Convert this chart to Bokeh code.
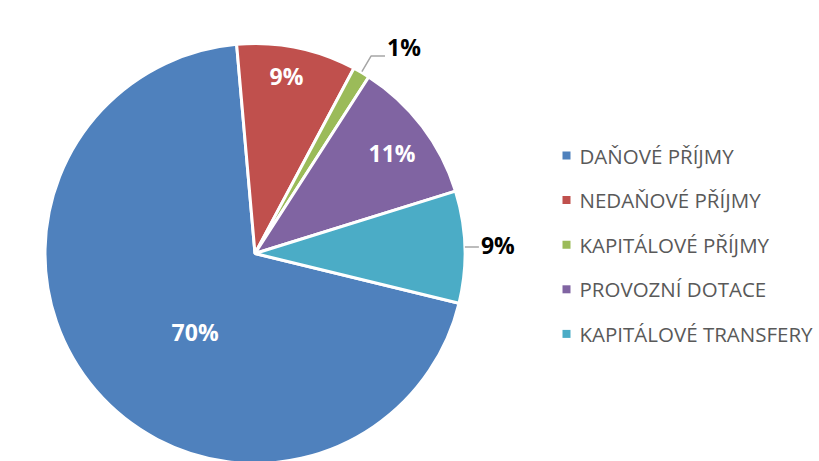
import numpy as np
from bokeh.plotting import figure
from bokeh.models import Range1d, ColumnDataSource
from bokeh.core.properties import value
from bokeh.embed import file_html
from bokeh.resources import INLINE

# ---- data ----
categories = ["DAŇOVÉ PŘÍJMY", "NEDAŇOVÉ PŘÍJMY", "KAPITÁLOVÉ PŘÍJMY",
              "PROVOZNÍ DOTACE", "KAPITÁLOVÉ TRANSFERY"]
shares = [69.8, 9.2, 1.3, 11.1, 8.6]
labels = ["70%", "9%", "1%", "11%", "9%"]
colors = ["#4F81BD", "#C0504D", "#9BBB59", "#8064A2", "#4BACC6"]

# ---- layout / style ----
W, H = 819, 461
CX, CY = 254.5, H - 253.0
R = 210.0
FIRST_SLICE_DEG = 103.7  # clockwise from 12 o'clock, like Excel
FONT = "Open Sans"

p = figure(width=W, height=H, x_range=Range1d(0, W), y_range=Range1d(0, H),
           output_backend="svg", toolbar_location=None, min_border=0)
p.axis.visible = False
p.grid.visible = False
p.outline_line_color = None
p.background_fill_color = "white"
p.border_fill_color = "white"

frac = np.array(shares, dtype=float) / float(np.sum(shares))
cum = np.concatenate([[0.0], np.cumsum(frac)])
a0 = np.radians(90.0 - FIRST_SLICE_DEG)
starts = a0 - cum[:-1] * 2 * np.pi
ends = a0 - cum[1:] * 2 * np.pi
mids = (starts + ends) / 2

src = ColumnDataSource(dict(x=[CX] * len(shares), y=[CY] * len(shares),
                            start=starts, end=ends, color=colors))
p.wedge(x="x", y="y", radius=R, start_angle="start", end_angle="end",
        direction="clock", fill_color="color", line_color="white",
        line_width=3, source=src)

# data labels: inside (white) or outside with leader (black)
# per slice: (mode, radius factor, angle nudge deg ccw, elbow extra radius, text dy)
label_style = [
    ("in", 0.47, 12.0, 0, 0),
    ("in", 0.86, 1.5, 0, 0),
    ("out", 1.0, 0.0, 19, 9),
    ("in", 0.81, -0.9, 0, 0),
    ("out", 1.0, 0.0, 0, 2),
]
for i, (mode, rf, nudge, elbow, dy) in enumerate(label_style):
    th = mids[i] + np.radians(nudge)
    if mode == "in":
        lx = CX + rf * R * np.cos(th)
        ly = CY + rf * R * np.sin(th)
        p.text(x=[lx], y=[ly], text=[labels[i]], text_color="white",
               text_font=value(FONT), text_font_style="bold",
               text_font_size="23px", text_align="center",
               text_baseline="middle")
    else:
        ax = CX + (R + 1) * np.cos(th)
        ay = CY + (R + 1) * np.sin(th)
        bx = CX + (R + elbow) * np.cos(th)
        by = CY + (R + elbow) * np.sin(th)
        cx2 = bx + 14
        p.line(x=[ax, bx, cx2], y=[ay, by, by], line_color="#A6A6A6",
               line_width=1.5)
        p.text(x=[cx2 + 2], y=[by + dy], text=[labels[i]], text_color="black",
               text_font=value(FONT), text_font_style="bold",
               text_font_size="23px", text_align="left",
               text_baseline="middle")

# legend
LX, LY0, LDY = 566, H - 155.0, 44.6
ly = [LY0 - k * LDY for k in range(len(categories))]
p.scatter(x=[LX] * len(categories), y=ly, marker="square", size=8,
          fill_color=colors, line_color=None)
p.text(x=[LX + 13] * len(categories), y=ly, text=categories,
       text_color="#595959", text_font=value(FONT), text_font_size="20.5px",
       text_align="left", text_baseline="middle")

open("out.html", "w").write(file_html(p, INLINE))
